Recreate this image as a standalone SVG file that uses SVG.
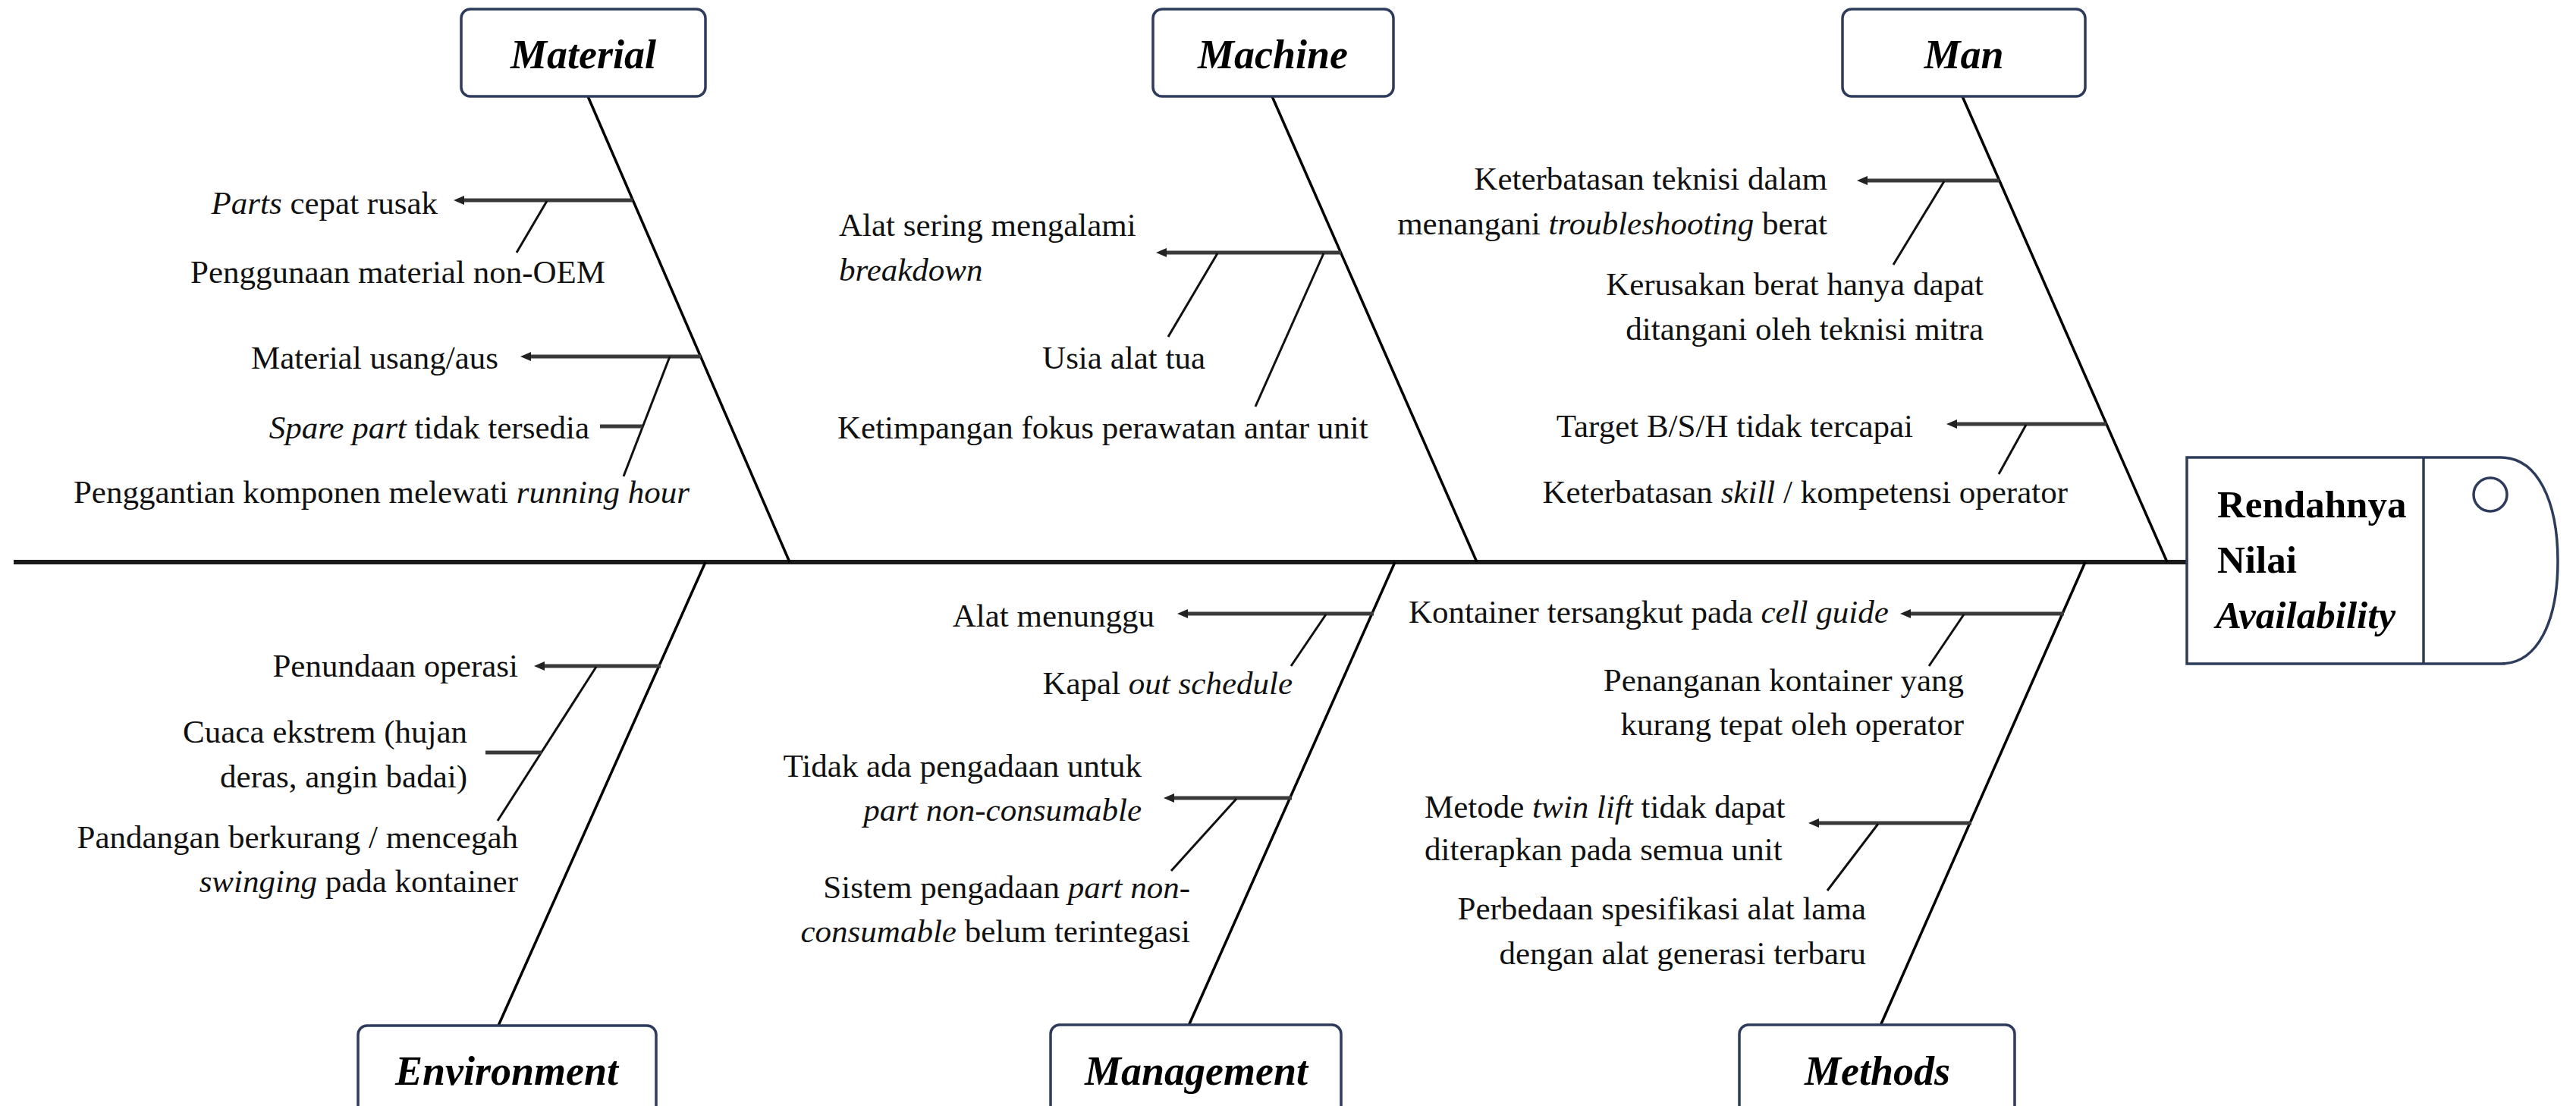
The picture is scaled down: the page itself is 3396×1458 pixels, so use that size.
<svg xmlns="http://www.w3.org/2000/svg" width="3396" height="1458" viewBox="0 0 3396 1458">
<style>
.box{fill:#fff;stroke:#2d3c5c;stroke-width:3.5}
.cat{font-family:"Liberation Serif","Times New Roman",serif;font-size:54px;font-weight:bold;font-style:italic;fill:#000;text-anchor:middle}
.t{font-family:"Liberation Serif","Times New Roman",serif;font-size:43px;fill:#111}
.e{text-anchor:end}
.m{text-anchor:middle}
.i{font-style:italic}
.head{font-family:"Liberation Serif","Times New Roman",serif;font-size:51px;font-weight:bold;fill:#000}
.spine{stroke:#1a1a1a;stroke-width:6;fill:none}
.br{stroke:#000;stroke-width:3.5;fill:none}
.ar{stroke:#3a3a3a;stroke-width:5;fill:none}
.sb{stroke:#111;stroke-width:3;fill:none}
</style>
<defs>
<marker id="ah" markerUnits="userSpaceOnUse" markerWidth="16" markerHeight="14" refX="2" refY="7" orient="auto">
<path d="M16,1 L2,7 L16,13 Z" fill="#222" transform="rotate(180 9 7)"/>
</marker>
</defs>
<rect width="3396" height="1458" fill="#fff"/>
<g id="connectors">
<line class="spine" x1="18" y1="741" x2="2883" y2="741"/>
<line class="br" x1="775" y1="127" x2="1041" y2="741"/>
<line class="br" x1="1677" y1="127" x2="1947" y2="741"/>
<line class="br" x1="2587" y1="127" x2="2857" y2="741"/>
<line class="br" x1="930" y1="741" x2="657" y2="1352"/>
<line class="br" x1="1839" y1="741" x2="1567" y2="1352"/>
<line class="br" x1="2749" y1="741" x2="2479" y2="1352"/>
<line class="ar" x1="834" y1="264" x2="612" y2="264" marker-end="url(#ah)"/>
<line class="sb" x1="721" y1="265" x2="681" y2="333"/>
<line class="ar" x1="924" y1="470" x2="700" y2="470" marker-end="url(#ah)"/>
<line class="sb" x1="883" y1="470" x2="822" y2="628"/>
<line class="ar" x1="791" y1="562" x2="847" y2="562"/>
<line class="ar" x1="1768" y1="333" x2="1538" y2="333" marker-end="url(#ah)"/>
<line class="sb" x1="1605" y1="334" x2="1540" y2="444"/>
<line class="sb" x1="1745" y1="334" x2="1655" y2="536"/>
<line class="ar" x1="2636" y1="238" x2="2462" y2="238" marker-end="url(#ah)"/>
<line class="sb" x1="2563" y1="239" x2="2496" y2="349"/>
<line class="ar" x1="2777" y1="559" x2="2580" y2="559" marker-end="url(#ah)"/>
<line class="sb" x1="2671" y1="560" x2="2635" y2="625"/>
<line class="ar" x1="871" y1="878" x2="718" y2="878" marker-end="url(#ah)"/>
<line class="sb" x1="786" y1="879" x2="656" y2="1082"/>
<line class="ar" x1="640" y1="992" x2="714" y2="992"/>
<line class="ar" x1="1811" y1="809" x2="1566" y2="809" marker-end="url(#ah)"/>
<line class="sb" x1="1748" y1="810" x2="1702" y2="878"/>
<line class="ar" x1="1703" y1="1052" x2="1548" y2="1052" marker-end="url(#ah)"/>
<line class="sb" x1="1630" y1="1053" x2="1544" y2="1148"/>
<line class="ar" x1="2721" y1="809" x2="2519" y2="809" marker-end="url(#ah)"/>
<line class="sb" x1="2589" y1="810" x2="2543" y2="878"/>
<line class="ar" x1="2599" y1="1085" x2="2398" y2="1085" marker-end="url(#ah)"/>
<line class="sb" x1="2476" y1="1086" x2="2409" y2="1174"/>
</g>
<g id="head">
<path class="box" d="M2883,603 H3297 C3345,603 3372,660 3372,740 C3372,820 3345,875 3297,875 H2883 Z"/>
<line x1="3195" y1="603" x2="3195" y2="875" stroke="#2d3c5c" stroke-width="3.5"/>
<circle cx="3283" cy="652" r="22" fill="none" stroke="#2d3c5c" stroke-width="3.5"/>
<text class="head" x="2923" y="682">Rendahnya</text>
<text class="head" x="2923" y="755">Nilai</text>
<text class="head" x="2921" y="828" font-style="italic">Availability</text>
</g>
<g id="material">
<rect class="box" x="608" y="12" width="322" height="115" rx="12"/>
<text class="cat" x="769" y="90">Material</text>
</g>
<g id="machine">
<rect class="box" x="1520" y="12" width="317" height="115" rx="12"/>
<text class="cat" x="1678" y="90">Machine</text>
</g>
<g id="man">
<rect class="box" x="2429" y="12" width="320" height="115" rx="12"/>
<text class="cat" x="2589" y="90">Man</text>
</g>
<g id="environment">
<rect class="box" x="472" y="1352" width="393" height="130" rx="12"/>
<text class="cat" x="668" y="1430">Environment</text>
</g>
<g id="management">
<rect class="box" x="1385" y="1351" width="383" height="130" rx="12"/>
<text class="cat" x="1577" y="1430">Management</text>
</g>
<g id="methods">
<rect class="box" x="2293" y="1351" width="363" height="130" rx="12"/>
<text class="cat" x="2475" y="1430">Methods</text>
</g>
<g id="causes-material">
<text class="t e" x="577" y="282"><tspan class="i">Parts</tspan> cepat rusak</text>
<text class="t e" x="798" y="373">Penggunaan material non-OEM</text>
<text class="t e" x="657" y="486">Material usang/aus</text>
<text class="t e" x="777" y="578"><tspan class="i">Spare part</tspan> tidak tersedia</text>
<text class="t e" x="909" y="663">Penggantian komponen melewati <tspan class="i">running hour</tspan></text>
</g>
<g id="causes-machine">
<text class="t" x="1106" y="311">Alat sering mengalami</text>
<text class="t i" x="1106" y="370">breakdown</text>
<text class="t e" x="1589" y="486">Usia alat tua</text>
<text class="t" x="1104" y="578">Ketimpangan fokus perawatan antar unit</text>
</g>
<g id="causes-man">
<text class="t e" x="2409" y="250">Keterbatasan teknisi dalam</text>
<text class="t e" x="2409" y="309">menangani <tspan class="i">troubleshooting</tspan> berat</text>
<text class="t e" x="2615" y="389">Kerusakan berat hanya dapat</text>
<text class="t e" x="2615" y="448">ditangani oleh teknisi mitra</text>
<text class="t e" x="2522" y="576">Target B/S/H tidak tercapai</text>
<text class="t e" x="2726" y="663">Keterbatasan <tspan class="i">skill</tspan> / kompetensi operator</text>
</g>
<g id="causes-environment">
<text class="t e" x="683" y="892">Penundaan operasi</text>
<text class="t e" x="616" y="979">Cuaca ekstrem (hujan</text>
<text class="t e" x="616" y="1038">deras, angin badai)</text>
<text class="t e" x="683" y="1118">Pandangan berkurang / mencegah</text>
<text class="t e" x="683" y="1176"><tspan class="i">swinging</tspan> pada kontainer</text>
</g>
<g id="causes-management">
<text class="t e" x="1522" y="826">Alat menunggu</text>
<text class="t e" x="1704" y="915">Kapal <tspan class="i">out schedule</tspan></text>
<text class="t e" x="1505" y="1024">Tidak ada pengadaan untuk</text>
<text class="t e i" x="1505" y="1082">part non-consumable</text>
<text class="t e" x="1569" y="1184">Sistem pengadaan <tspan class="i">part non-</tspan></text>
<text class="t e" x="1569" y="1242"><tspan class="i">consumable</tspan> belum terintegasi</text>
</g>
<g id="causes-methods">
<text class="t" x="1857" y="821">Kontainer tersangkut pada <tspan class="i">cell guide</tspan></text>
<text class="t e" x="2589" y="911">Penanganan kontainer yang</text>
<text class="t e" x="2589" y="969">kurang tepat oleh operator</text>
<text class="t" x="1878" y="1078">Metode <tspan class="i">twin lift</tspan> tidak dapat</text>
<text class="t" x="1878" y="1134">diterapkan pada semua unit</text>
<text class="t e" x="2460" y="1212">Perbedaan spesifikasi alat lama</text>
<text class="t e" x="2460" y="1271">dengan alat generasi terbaru</text>
</g>
</svg>
